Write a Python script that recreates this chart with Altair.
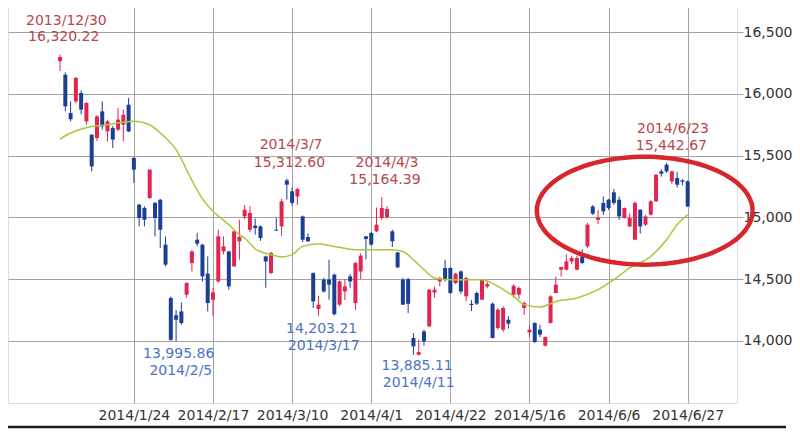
import altair as alt
import pandas as pd
import numpy as np

# ---- daily OHLC (trading days 2013/12/30 .. 2014/6/27) ----
opens = [16265, 16156, 15846, 15940, 16008, 15778, 15670, 15643, 15859, 15697,
         15724, 15711, 15751, 15913, 15481, 15103, 15076, 15157, 15117, 15143,
         14779, 14347, 14207, 14238, 14374, 14630, 14819, 14779, 14544, 14333,
         14481, 14724, 14724, 14603, 14806, 15008, 14900, 14933, 14927, 14684,
         14549, 14900, 14927, 15300, 15211, 15170, 15008, 14841, 14549, 14258,
         14495, 14495, 14536, 14293, 14400, 14522, 14306, 14562, 14846, 14874,
         14887, 14995, 15003, 14887, 14716, 14495, 14500, 14023, 13887, 14076,
         14117, 14390, 14481, 14590, 14590, 14468, 14562, 14360, 14300, 14387,
         14333, 14440, 14301, 14104, 14090, 14171, 14374, 14374, 14266, 14068,
         14144, 14090, 13960, 14144, 14387, 14576, 14576, 14643, 14576, 14684,
         14765, 15089, 14980, 15117, 15143, 15203, 15143, 14995, 14927, 14819,
         15062, 14941, 15022, 15130, 15373, 15427, 15292, 15319, 15300, 15292]
highs = [16320, 16175, 15940, 16140, 16030, 15935, 15675, 15830, 15940, 15790,
         15740, 15887, 15873, 15968, 15490, 15110, 15090, 15390, 15125, 15150,
         14846, 14360, 14250, 14311, 14475, 14735, 14874, 14785, 14684, 14428,
         14900, 14846, 14730, 14900, 14981, 15100, 15090, 14990, 14935, 14690,
         14720, 14995, 15150, 15313, 15240, 15240, 15015, 14870, 14555, 14365,
         14510, 14657, 14545, 14490, 14500, 14540, 14640, 14710, 14850, 14880,
         15080, 15164, 15090, 14900, 14720, 14510, 14510, 14063, 14010, 14090,
         14420, 14440, 14520, 14657, 14600, 14550, 14570, 14520, 14330, 14400,
         14500, 14485, 14310, 14266, 14280, 14200, 14460, 14440, 14320, 14120,
         14150, 14130, 14035, 14370, 14520, 14600, 14700, 14690, 14690, 14740,
         14955, 15100, 15060, 15170, 15150, 15230, 15170, 15080, 15030, 15130,
         15065, 15020, 15140, 15350, 15390, 15443, 15380, 15370, 15310, 15300]
lows = [16185, 15859, 15778, 15925, 15835, 15751, 15373, 15620, 15711, 15616,
        15562, 15700, 15616, 15690, 15279, 14927, 14927, 15150, 14846, 14752,
        14603, 14000, 13996, 14130, 14350, 14562, 14765, 14481, 14238, 14198,
        14470, 14700, 14414, 14600, 14657, 14986, 14880, 14860, 14810, 14430,
        14540, 14890, 14850, 15143, 15095, 15100, 14800, 14800, 14266, 14203,
        14390, 14333, 14205, 14280, 14330, 14430, 14250, 14500, 14660, 14770,
        14880, 14980, 14990, 14760, 14590, 14290, 14225, 13885, 13880, 13960,
        14110, 14350, 14440, 14480, 14380, 14460, 14380, 14320, 14240, 14290,
        14330, 14425, 14020, 14090, 14070, 14100, 14350, 14340, 14210, 14030,
        13982, 14030, 13955, 14140, 14385, 14520, 14570, 14620, 14570, 14620,
        14750, 15020, 14945, 15020, 15060, 15100, 14980, 14990, 14920, 14815,
        14870, 14930, 15015, 15125, 15330, 15360, 15270, 15240, 15260, 15085]
closes = [16300, 15900, 15795, 16130, 15873, 15927, 15413, 15818, 15737, 15778,
          15630, 15792, 15832, 15697, 15387, 14995, 14981, 15387, 14995, 14900,
          14617, 14008, 14171, 14144, 14468, 14724, 14787, 14522, 14306, 14392,
          14846, 14765, 14441, 14887, 14841, 15062, 15036, 14914, 14833, 14643,
          14712, 14893, 15130, 15265, 15117, 15230, 14819, 14806, 14319, 14293,
          14400, 14455, 14215, 14481, 14441, 14481, 14630, 14690, 14825, 14779,
          14941, 15076, 15068, 14806, 14595, 14293, 14300, 13955, 13909, 13995,
          14414, 14414, 14509, 14495, 14387, 14544, 14400, 14509, 14290, 14301,
          14495, 14460, 14023, 14252, 14266, 14139, 14446, 14428, 14306, 14090,
          13990, 14050, 14031, 14360, 14455, 14598, 14643, 14671, 14671, 14630,
          14941, 15030, 15000, 15049, 15076, 15117, 15008, 15076, 14995, 15117,
          14927, 15008, 15130, 15346, 15354, 15373, 15373, 15265, 15289, 15089]

# ---- x-axis ticks (trading-day index) ----
tick_idx = [14, 29, 44, 59, 74, 89, 104, 119]
tick_labels = ["2014/1/24", "2014/2/17", "2014/3/10", "2014/4/1",
               "2014/4/22", "2014/5/16", "2014/6/6", "2014/6/27"]
y_ticks = [14000, 14500, 15000, 15500, 16000, 16500]

# ---- moving average ----
ma_idx = [0, 2, 5, 9, 12, 14, 17, 19, 22, 25, 27, 29, 32, 34, 35, 37, 40, 42, 44,
          46, 49, 52, 56, 60, 63, 65, 67, 69, 71, 74, 80, 83, 86, 88, 91, 94, 98,
          102, 105, 108, 112, 115, 117, 119]
ma_val = [15635, 15684, 15727, 15751, 15770, 15778, 15751, 15684, 15549, 15300,
          15150, 15050, 14941, 14860, 14833, 14745, 14698, 14679, 14698, 14765,
          14784, 14765, 14738, 14738, 14738, 14724, 14657, 14576, 14509, 14495,
          14495, 14441, 14360, 14293, 14274, 14319, 14347, 14414, 14495, 14590,
          14684, 14819, 14941, 15022]

# ---- annotations ----
ann_text = ["2013/12/30", "16,320.22", "2014/3/7", "15,312.60", "2014/4/3", "15,164.39",
            "2014/6/23", "15,442.67", "13,995.86", "2014/2/5", "14,203.21", "2014/3/17",
            "13,885.11", "2014/4/11"]
ann_idx = [1.2, 0.7, 43.8, 43.5, 62.0, 61.6, 116.2, 115.9, 22.5, 22.9, 49.6, 50.0, 67.7, 68.0]
ann_val = [16594, 16460, 15589, 15443, 15443, 15305, 15719, 15581, 13896, 13758,
           14098, 13960, 13798, 13661]
ann_kind = ["high"] * 8 + ["low"] * 6

# highlight ellipse (data coords: centre index/value, radii)
ell_center = (110.85, 15054)
ell_radius = (20.45, 437)

RED = "#e2254f"
BLUE = "#1b3f94"
X_DOMAIN = [-8.92, 127.4]
Y_DOMAIN = [13496, 16729]
FONT = "DejaVu Sans"
FS = 14

n = len(closes)
df = pd.DataFrame({
    "idx": list(range(n)), "open": opens, "high": highs, "low": lows, "close": closes,
})
df["dir"] = np.where(df["close"] >= df["open"], "up", "down")

ma_df = pd.DataFrame({"idx": ma_idx, "val": ma_val})
ann_df = pd.DataFrame({"idx": ann_idx, "val": ann_val, "text": ann_text, "kind": ann_kind})

t = np.linspace(0, 2 * np.pi, 121)
ell_df = pd.DataFrame({
    "idx": ell_center[0] + ell_radius[0] * np.cos(t),
    "val": ell_center[1] + ell_radius[1] * np.sin(t),
    "k": np.arange(len(t)),
})

xscale = alt.Scale(domain=X_DOMAIN, nice=False, zero=False)
yscale = alt.Scale(domain=Y_DOMAIN, nice=False, zero=False)
color = alt.Color("dir:N", scale=alt.Scale(domain=["up", "down"], range=[RED, BLUE]), legend=None)

label_arr = "[" + ",".join("'%s'" % s for s in tick_labels) + "]"
x_axis = alt.Axis(values=tick_idx, labelExpr=label_arr + "[round((datum.value-14)/15)]",
                  grid=True, ticks=False, domain=False, labelPadding=5, title=None,
                  labelFont=FONT, labelFontSize=FS, labelColor="#333333",
                  labelOverlap=False, gridColor="#a3a3a3")
y_axis = alt.Axis(values=y_ticks, labelExpr="format(datum.value, ',')", orient="right",
                  grid=True, tickSize=6, tickColor="#a3a3a3", domain=False, labelPadding=0,
                  title=None, labelFont=FONT, labelFontSize=FS, labelColor="#333333",
                  labelOverlap=False, gridColor="#a3a3a3")


def X(field="idx"):
    return alt.X(field + ":Q", scale=xscale, axis=x_axis)


def Y(field):
    return alt.Y(field + ":Q", scale=yscale, axis=y_axis)


base = alt.Chart(df)
wicks = base.mark_rule(strokeWidth=1).encode(
    x=X(), y=Y("low"), y2="high:Q", color=color,
)
bodies = base.mark_bar(width=4).encode(
    x=X(), y=Y("open"), y2="close:Q", color=color,
)
ma_line = alt.Chart(ma_df).mark_line(color="#a8c83c", strokeWidth=1.5, interpolate="monotone").encode(
    x=X(), y=Y("val"),
)
ellipse = alt.Chart(ell_df).mark_line(color="#d8262c", strokeWidth=4.5).encode(
    x=X(), y=Y("val"), order="k:Q",
)
labels = alt.Chart(ann_df).mark_text(font=FONT, fontSize=FS, align="center", baseline="middle").encode(
    x=X(), y=Y("val"),
    text="text:N",
    color=alt.Color("kind:N", scale=alt.Scale(domain=["high", "low"], range=["#b5484c", "#4f72c2"]),
                    legend=None),
)
bottom_line = alt.Chart(pd.DataFrame({"a": [0]})).mark_rule(color="#1a1a1a", strokeWidth=2.5).encode(
    x=alt.value(0), x2=alt.value(778), y=alt.value(423),
)

chart = alt.layer(wicks, bodies, ma_line, ellipse, labels, bottom_line).resolve_scale(
    color="independent"
).properties(
    width=729, height=399,
    padding={"left": -2, "top": -4, "right": 0, "bottom": 0},
).configure_view(stroke="#8c8c8c", strokeWidth=1).configure(background="white")

chart.save("out.html", embed_options={"renderer": "svg", "actions": False})
